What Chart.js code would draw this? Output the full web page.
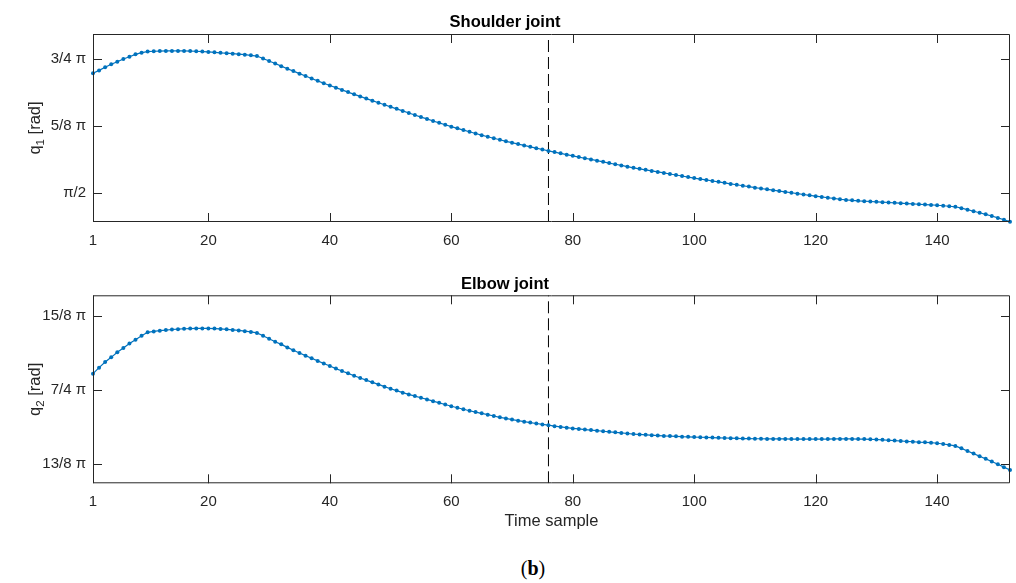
<!DOCTYPE html>
<html>
<head>
<meta charset="utf-8">
<script src="https://cdn.jsdelivr.net/npm/chart.js@4.4.0/dist/chart.umd.min.js"></script>
<style>
    html, body { margin: 0; padding: 0; background: #fff; }
    #wrap   { position: relative; width: 1016px; height: 583px; overflow: hidden; }
    canvas  { position: absolute; left: 0; }
    #top    { top: 0; }
    #bottom { top: 260px; }
    #caption {
        position: absolute; top: 555px; left: 483px; width: 100px;
        text-align: center; font: 20px/26px "Liberation Serif", "DejaVu Serif", serif; color: #000;
    }
</style>
</head>
<body>
<div id="wrap">
    <canvas id="top" width="1016" height="260"></canvas>
    <canvas id="bottom" width="1016" height="290"></canvas>
    <div id="caption">(<b>b</b>)</div>
</div>
<script>
// ── Data ─────────────────────────────────────────────────────────────────────

// joint angles in rad, one value per time sample (1 … 152)
const shoulderAngle = [
    2.270, 2.287, 2.305, 2.323, 2.338, 2.354, 2.367, 2.381, 2.391, 2.397,
    2.399, 2.400, 2.401, 2.401, 2.401, 2.401, 2.400, 2.399, 2.397, 2.395,
    2.393, 2.390, 2.388, 2.385, 2.382, 2.379, 2.375, 2.371, 2.357, 2.342,
    2.327, 2.312, 2.297, 2.283, 2.268, 2.254, 2.240, 2.226, 2.212, 2.199,
    2.186, 2.173, 2.160, 2.147, 2.135, 2.122, 2.110, 2.098, 2.086, 2.074,
    2.062, 2.050, 2.038, 2.026, 2.014, 2.003, 1.991, 1.980, 1.969, 1.958,
    1.948, 1.938, 1.928, 1.918, 1.908, 1.899, 1.890, 1.881, 1.872, 1.864,
    1.856, 1.848, 1.840, 1.832, 1.824, 1.816, 1.809, 1.802, 1.794, 1.787,
    1.780, 1.773, 1.766, 1.759, 1.752, 1.745, 1.738, 1.731, 1.724, 1.717,
    1.711, 1.705, 1.699, 1.693, 1.687, 1.681, 1.675, 1.669, 1.663, 1.657,
    1.651, 1.646, 1.640, 1.635, 1.629, 1.623, 1.618, 1.612, 1.607, 1.601,
    1.596, 1.591, 1.586, 1.581, 1.576, 1.571, 1.566, 1.561, 1.556, 1.551,
    1.547, 1.542, 1.538, 1.533, 1.529, 1.527, 1.524, 1.522, 1.520, 1.518,
    1.516, 1.514, 1.512, 1.510, 1.508, 1.506, 1.504, 1.502, 1.500, 1.498,
    1.495, 1.492, 1.489, 1.481, 1.472, 1.463, 1.454, 1.445, 1.435, 1.424,
    1.413, 1.402,
];

const elbowAngle = [
    5.583, 5.615, 5.645, 5.670, 5.697, 5.720, 5.743, 5.764, 5.785, 5.803,
    5.808, 5.812, 5.815, 5.818, 5.820, 5.822, 5.823, 5.824, 5.824, 5.824,
    5.823, 5.821, 5.819, 5.816, 5.813, 5.809, 5.805, 5.800, 5.785, 5.769,
    5.753, 5.739, 5.723, 5.708, 5.693, 5.679, 5.665, 5.651, 5.637, 5.624,
    5.610, 5.597, 5.585, 5.572, 5.560, 5.549, 5.537, 5.526, 5.514, 5.503,
    5.493, 5.482, 5.473, 5.464, 5.455, 5.446, 5.437, 5.428, 5.419, 5.410,
    5.402, 5.394, 5.386, 5.379, 5.372, 5.365, 5.358, 5.351, 5.345, 5.339,
    5.333, 5.328, 5.323, 5.318, 5.313, 5.309, 5.304, 5.300, 5.296, 5.292,
    5.289, 5.286, 5.283, 5.280, 5.277, 5.274, 5.271, 5.268, 5.265, 5.262,
    5.260, 5.258, 5.256, 5.254, 5.252, 5.251, 5.250, 5.248, 5.247, 5.246,
    5.245, 5.244, 5.243, 5.242, 5.241, 5.240, 5.239, 5.238, 5.238, 5.237,
    5.237, 5.236, 5.236, 5.236, 5.236, 5.235, 5.235, 5.235, 5.235, 5.235,
    5.235, 5.235, 5.236, 5.236, 5.236, 5.236, 5.235, 5.235, 5.234, 5.233,
    5.231, 5.229, 5.227, 5.225, 5.223, 5.221, 5.219, 5.218, 5.216, 5.213,
    5.209, 5.204, 5.199, 5.186, 5.172, 5.158, 5.144, 5.130, 5.116, 5.101,
    5.086, 5.071,
];

const firstSample  = 1;
const lastSample   = 152;
const switchSample = 76;                  // dashed vertical marker
const sampleTicks  = [1, 20, 40, 60, 80, 100, 120, 140];

// y ticks are multiples of π
const shoulderTicksPi    = [1 / 2, 5 / 8, 3 / 4];
const shoulderTickLabels = ["π/2", "5/8 π", "3/4 π"];
const shoulderRange      = [1.4, 2.5];

const elbowTicksPi    = [13 / 8, 7 / 4, 15 / 8];
const elbowTickLabels = ["13/8 π", "7/4 π", "15/8 π"];
const elbowRange      = [5.0, 6.0];

// ── Styles ───────────────────────────────────────────────────────────────────

const FONT      = '"Liberation Sans", Arial, Helvetica, sans-serif';
const LINE_BLUE = "#0072BD";
const AXIS_GREY = "#262626";

// ── Plugins ──────────────────────────────────────────────────────────────────

// MATLAB-style closed box with ticks pointing inward on all four sides
const boxPlugin = {
    id: "matlabBox",
    afterDatasetsDraw(chart) {
        const { ctx, chartArea: a, scales: { x, y } } = chart;
        const len = 9;
        ctx.save();
        ctx.strokeStyle = AXIS_GREY;
        ctx.lineWidth = 1;
        ctx.beginPath();
        ctx.rect(a.left + 0.5, a.top + 0.5, a.right - a.left - 1, a.bottom - a.top - 1);
        x.ticks.forEach(t => {
            const px = Math.round(x.getPixelForValue(t.value)) + 0.5;
            ctx.moveTo(px, a.bottom); ctx.lineTo(px, a.bottom - len);
            ctx.moveTo(px, a.top);    ctx.lineTo(px, a.top + len);
        });
        y.ticks.forEach(t => {
            const py = Math.round(y.getPixelForValue(t.value)) + 0.5;
            ctx.moveTo(a.left, py);  ctx.lineTo(a.left + len, py);
            ctx.moveTo(a.right, py); ctx.lineTo(a.right - len, py);
        });
        ctx.stroke();
        ctx.restore();
    },
};

// rotated y label with a real subscript, e.g. q₁ [rad]
const yLabelPlugin = {
    id: "jointLabel",
    afterDraw(chart, args, opts) {
        const { ctx, chartArea: a } = chart;
        const big = `16.5px ${FONT}`, small = `11.5px ${FONT}`;
        ctx.save();
        ctx.translate(opts.x, (a.top + a.bottom) / 2);
        ctx.rotate(-Math.PI / 2);
        ctx.fillStyle = AXIS_GREY;
        ctx.textBaseline = "alphabetic";
        ctx.font = big;
        const wq = ctx.measureText(opts.symbol).width;
        const wu = ctx.measureText(opts.unit).width;
        ctx.font = small;
        const ws = ctx.measureText(opts.sub).width;
        const x0 = -(wq + ws + wu) / 2;
        ctx.font = big;   ctx.fillText(opts.symbol, x0, 0);
        ctx.font = small; ctx.fillText(opts.sub, x0 + wq, 4);
        ctx.font = big;   ctx.fillText(opts.unit, x0 + wq + ws, 0);
        ctx.restore();
    },
};

// ── Chart factory ────────────────────────────────────────────────────────────

function makeJointChart(id, cfg) {
    const points = cfg.values.map((v, i) => ({ x: firstSample + i, y: v }));

    return new Chart(document.getElementById(id), {
        type: "line",
        data: {
            datasets: [
                {
                    data:             points,
                    borderColor:      LINE_BLUE,
                    backgroundColor:  LINE_BLUE,
                    borderWidth:      1.2,
                    pointRadius:      2,
                    pointHoverRadius: 2,
                    pointBorderWidth: 0,
                    tension:          0,
                    clip:             false,
                },
                {
                    data: [
                        { x: switchSample, y: cfg.range[0] },
                        { x: switchSample, y: cfg.range[1] },
                    ],
                    borderColor: "#000",
                    borderWidth: 1,
                    borderDash:  [12, 5],
                    pointRadius: 0,
                },
            ],
        },
        options: {
            responsive:       false,
            animation:        false,
            devicePixelRatio: 1,
            events:           [],
            layout: { padding: { left: 0, right: 6, top: 0, bottom: 0 } },
            plugins: {
                legend:  { display: false },
                tooltip: { enabled: false },
                title: {
                    display: true,
                    text:    cfg.title,
                    color:   "#000",
                    font:    { family: FONT, size: 16.5, weight: "bold" },
                    padding: { top: cfg.titlePad[0], bottom: cfg.titlePad[1] },
                },
                jointLabel: { x: 39.5, symbol: "q", sub: cfg.sub, unit: " [rad]" },
            },
            scales: {
                x: {
                    type: "linear",
                    min:  firstSample,
                    max:  lastSample,
                    grid:   { display: false, drawTicks: false },
                    border: { display: false },
                    afterBuildTicks: s => { s.ticks = sampleTicks.map(v => ({ value: v })); },
                    afterFit:        s => { s.height = cfg.xAxisHeight; },
                    ticks: {
                        padding: 10, color: AXIS_GREY, maxRotation: 0, autoSkip: false,
                        font: { family: FONT, size: 15 },
                    },
                    title: cfg.xTitle ? {
                        display: true,
                        text:    cfg.xTitle,
                        color:   AXIS_GREY,
                        font:    { family: FONT, size: 16.5 },
                        padding: { top: 0, bottom: 18.4 },
                    } : { display: false },
                },
                y: {
                    type: "linear",
                    min:  cfg.range[0],
                    max:  cfg.range[1],
                    grid:   { display: false, drawTicks: false },
                    border: { display: false },
                    afterBuildTicks: s => { s.ticks = cfg.ticksPi.map(v => ({ value: v * Math.PI })); },
                    afterFit:        s => { s.width = 93; },
                    ticks: {
                        padding: 7, color: AXIS_GREY,
                        font: { family: FONT, size: 15 },
                        callback: (v, i) => cfg.tickLabels[i],
                    },
                },
            },
        },
        plugins: [boxPlugin, yLabelPlugin],
    });
}

// ── Build both panels ────────────────────────────────────────────────────────

makeJointChart("top", {
    title:       "Shoulder joint",
    titlePad:    [12.6, 1.6],
    values:      shoulderAngle,
    range:       shoulderRange,
    ticksPi:     shoulderTicksPi,
    tickLabels:  shoulderTickLabels,
    sub:         "1",
    xAxisHeight: 38,
});

makeJointChart("bottom", {
    title:       "Elbow joint",
    titlePad:    [14.1, 1.4],
    values:      elbowAngle,
    range:       elbowRange,
    ticksPi:     elbowTicksPi,
    tickLabels:  elbowTickLabels,
    sub:         "2",
    xAxisHeight: 66.7,
    xTitle:      "Time sample",
});
</script>
</body>
</html>
